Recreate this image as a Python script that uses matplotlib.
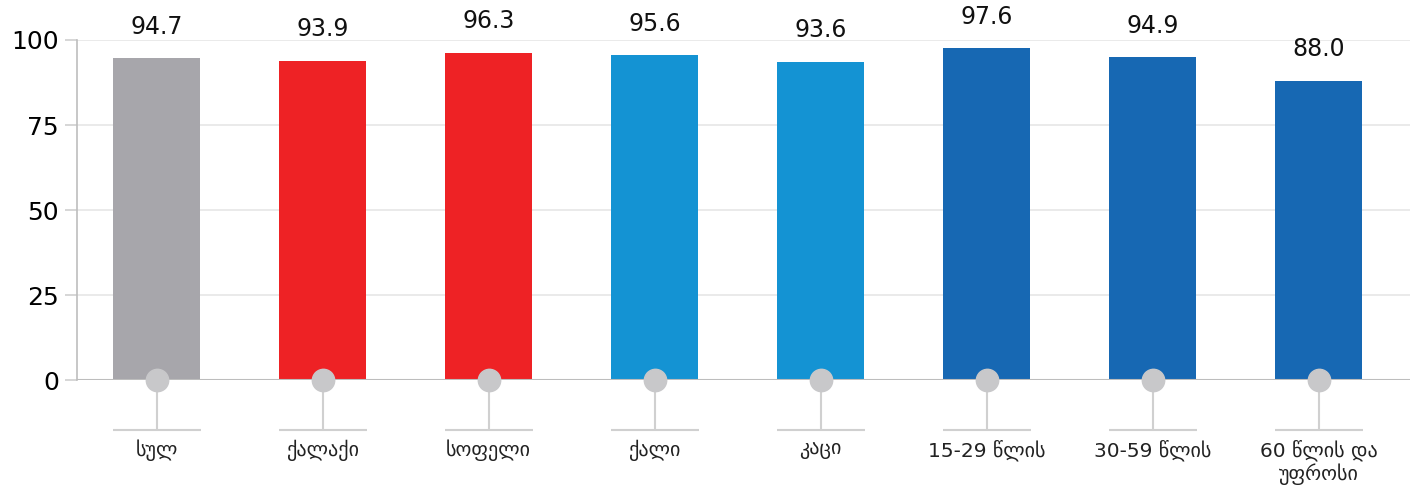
import numpy as np
import matplotlib.pyplot as plt

plt.rcParams['font.family'] = ['DejaVu Sans']

# dati
categorie = ['სულ', 'ქალაქი', 'სოფელი', 'ქალი', 'კაცი',
             '15-29 წლის', '30-59 წლის', '60 წლის და\nუფროსი']
valori = [94.7, 93.9, 96.3, 95.6, 93.6, 97.6, 94.9, 88.0]
colori = ['#A7A6AB', '#EE2225', '#EE2225', '#1493D3', '#1493D3',
          '#1768B3', '#1768B3', '#1768B3']
y_ticks = [0, 25, 50, 75, 100]

fig = plt.figure(figsize=(14.1, 4.92), dpi=100)
ax = fig.add_axes([0.0546, 0.2276, 0.9454, 0.6911])

x = np.arange(len(categorie))
ax.bar(x, valori, width=0.525, color=colori, zorder=2)

ax.set_xlim(-0.48, 7.55)
ax.set_ylim(0, 100)

# griglia orizzontale
for t in y_ticks[1:]:
    ax.axhline(t, color='#E6E6E6', linewidth=1.2, zorder=1)
ax.axhline(0, color='#BDBDBD', linewidth=1.5, zorder=3)

ax.set_yticks(y_ticks)
ax.tick_params(axis='y', length=9, width=1.2, color='#D0D0D0', labelsize=18, pad=4)
ax.tick_params(axis='x', length=0, labelbottom=False)

for s in ['top', 'right', 'bottom']:
    ax.spines[s].set_visible(False)
ax.spines['left'].set_color('#BDBDBD')
ax.spines['left'].set_linewidth(1.2)

# etichette dei valori
for xi, v in zip(x, valori):
    ax.annotate(f'{v:.1f}', (xi, v), xytext=(0, 14), textcoords='offset points',
                ha='center', va='bottom', fontsize=17, color='#111111')

# pallini e stanghette sotto l'asse
ax.scatter(x, np.zeros(len(x)), s=260, color='#C8C8CA', zorder=4, clip_on=False)
ax.vlines(x, -14.7, 0, color='#D0D0D0', linewidth=1.5, zorder=1, clip_on=False)
ax.hlines(np.full(len(x), -14.7), x - 0.265, x + 0.265, color='#D0D0D0',
          linewidth=1.5, clip_on=False)

for xi, lab in zip(x, categorie):
    ax.text(xi, -17.5, lab, ha='center', va='top', fontsize=14.5,
            color='#222222', linespacing=1.15)

plt.savefig('out.png', dpi=100)
